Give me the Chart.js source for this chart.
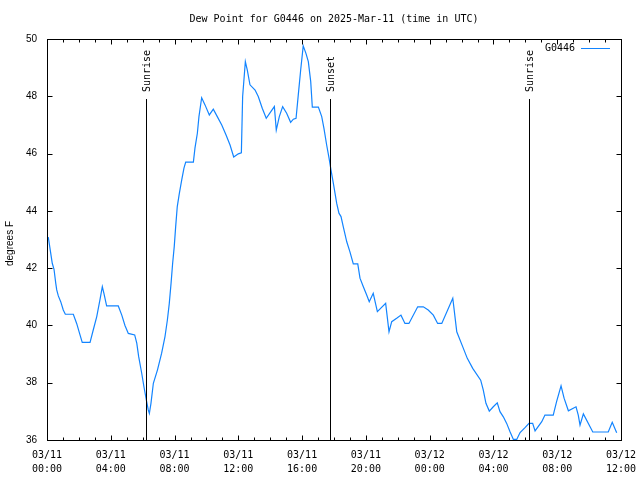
<!DOCTYPE html>
<html>
<head>
<meta charset="utf-8">
<script src="https://cdn.jsdelivr.net/npm/chart.js@4.4.1/dist/chart.umd.min.js"></script>
<style>
  body { margin: 0; background: #fff; }
  #dewChart { display: block; }
</style>
</head>
<body>
<canvas id="dewChart" width="640" height="480"></canvas>
<script>
// hours since 03/11 00:00 UTC
const hours = [0.08, 0.33, 0.44, 0.55, 0.61, 0.71, 0.86, 1.02, 1.15, 1.65,
  1.86, 2.07, 2.21, 2.70, 2.90, 3.12, 3.32, 3.47, 3.57, 3.74,
  4.47, 4.69, 4.89, 5.10, 5.50, 5.63, 5.75, 5.94, 6.08, 6.25,
  6.35, 6.42, 6.52, 6.67, 6.93, 7.19, 7.40, 7.55, 7.67, 7.78,
  7.88, 7.98, 8.07, 8.17, 8.30, 8.45, 8.59, 8.70, 9.18, 9.28,
  9.43, 9.53, 9.70, 9.91, 10.18, 10.43, 10.68, 10.96, 11.23, 11.48,
  11.71, 12.00, 12.19, 12.27, 12.44, 12.56, 12.73, 13.05, 13.25, 13.50,
  13.75, 14.05, 14.26, 14.38, 14.57, 14.78, 15.03, 15.28, 15.45, 15.62,
  15.76, 15.91, 16.07, 16.24, 16.39, 16.54, 16.64, 17.02, 17.23, 17.37,
  17.54, 17.69, 17.81, 17.96, 18.17, 18.31, 18.44, 18.58, 18.80, 19.00,
  19.21, 19.49, 19.63, 19.84, 20.05, 20.21, 20.46, 20.72, 21.24, 21.45,
  21.62, 21.93, 22.20, 22.45, 22.70, 23.25, 23.60, 23.91, 24.23, 24.50,
  24.76, 25.45, 25.70, 26.07, 26.36, 26.70, 27.20, 27.36, 27.53, 27.74,
  27.99, 28.24, 28.41, 28.62, 28.83, 29.04, 29.25, 29.46, 29.67, 29.98,
  30.23, 30.46, 30.61, 31.03, 31.23, 31.75, 31.96, 32.24, 32.43, 32.70,
  33.18, 33.32, 33.43, 33.64, 34.06, 34.23, 35.20, 35.45, 35.73];

const dewPoint = [43.08, 42.17, 41.96, 41.47, 41.24, 41.03, 40.83, 40.54, 40.39, 40.39,
  40.07, 39.67, 39.41, 39.41, 39.84, 40.31, 40.89, 41.35, 41.12, 40.68,
  40.68, 40.36, 40.00, 39.72, 39.67, 39.38, 38.91, 38.33, 37.86, 37.34,
  37.05, 36.93, 37.28, 37.98, 38.45, 39.03, 39.61, 40.19, 40.77, 41.47,
  42.17, 42.75, 43.45, 44.15, 44.61, 45.08, 45.49, 45.70, 45.70, 46.19,
  46.71, 47.29, 47.95, 47.70, 47.35, 47.55, 47.29, 47.00, 46.65, 46.30,
  45.88, 45.99, 46.03, 47.99, 49.21, 48.92, 48.40, 48.22, 47.99, 47.58,
  47.23, 47.47, 47.64, 46.82, 47.29, 47.64, 47.41, 47.09, 47.20, 47.23,
  48.05, 48.92, 49.76, 49.50, 49.21, 48.51, 47.62, 47.62, 47.29, 46.88,
  46.30, 45.84, 45.43, 44.96, 44.26, 43.92, 43.80, 43.45, 42.92, 42.57,
  42.15, 42.15, 41.65, 41.35, 41.06, 40.83, 41.12, 40.48, 40.77, 39.78,
  40.13, 40.25, 40.36, 40.07, 40.07, 40.65, 40.65, 40.54, 40.36, 40.07,
  40.07, 40.95, 39.78, 39.26, 38.85, 38.50, 38.09, 37.75, 37.28, 37.01,
  37.16, 37.30, 36.99, 36.81, 36.58, 36.29, 36.02, 36.02, 36.26, 36.43,
  36.58, 36.58, 36.32, 36.64, 36.87, 36.87, 37.34, 37.89, 37.46, 37.02,
  37.16, 36.87, 36.52, 36.91, 36.46, 36.28, 36.28, 36.62, 36.25];

const sunHours = [6.23, 17.77, 30.25];
const sunLabels = ['Sunrise', 'Sunset', 'Sunrise'];
const dayLabels = ['03/11', '03/12'];
const seriesName = 'G0446';

const lineColor = 'rgb(18,132,255)';
const monoFont = '10px "DejaVu Sans Mono", monospace';

// gnuplot style frame, inward ticks, sun markers, legend
const gnuplotBits = {
  id: 'gnuplotBits',
  afterDraw(chart) {
    const ctx = chart.ctx;
    const a = chart.chartArea;
    const xs = chart.scales.x;
    const ys = chart.scales.y;
    const L = Math.round(a.left) + 0.5, R = Math.round(a.right) + 0.5;
    const T = Math.round(a.top) + 0.5, B = Math.round(a.bottom) + 0.5;
    ctx.save();
    ctx.strokeStyle = '#000';
    ctx.lineWidth = 1;
    ctx.strokeRect(L, T, R - L, B - T);

    ctx.beginPath();
    // x ticks every hour, bigger every 4
    for (let h = xs.min; h <= xs.max; h++) {
      const px = Math.round(xs.getPixelForValue(h)) + 0.5;
      const len = h % 4 === 0 ? 5 : 3;
      ctx.moveTo(px, B); ctx.lineTo(px, B - len);
      ctx.moveTo(px, T); ctx.lineTo(px, T + len);
    }
    ys.ticks.forEach(t => {
      const py = Math.round(ys.getPixelForValue(t.value)) + 0.5;
      ctx.moveTo(L, py); ctx.lineTo(L + 5, py);
      ctx.moveTo(R, py); ctx.lineTo(R - 5, py);
    });
    ctx.stroke();

    // sunrise / sunset
    ctx.font = monoFont;
    ctx.fillStyle = '#000';
    sunHours.forEach((h, i) => {
      const px = Math.round(xs.getPixelForValue(h)) + 0.5;
      const top = a.top + 60;
      ctx.beginPath();
      ctx.moveTo(px, top); ctx.lineTo(px, B);
      ctx.stroke();
      ctx.save();
      ctx.translate(px + 1, top - 7);
      ctx.rotate(-Math.PI / 2);
      ctx.textAlign = 'left';
      ctx.textBaseline = 'middle';
      ctx.fillText(sunLabels[i], 0, 0);
      ctx.restore();
    });

    // legend, top right
    ctx.textAlign = 'right';
    ctx.textBaseline = 'middle';
    ctx.fillText(seriesName, a.right - 46, a.top + 9);
    ctx.strokeStyle = lineColor;
    ctx.beginPath();
    ctx.moveTo(a.right - 40, a.top + 9.5);
    ctx.lineTo(a.right - 11, a.top + 9.5);
    ctx.stroke();

    // y axis title
    ctx.fillStyle = '#000';
    ctx.font = '10px "Liberation Sans", sans-serif';
    ctx.translate(10, (a.top + a.bottom) / 2 + 4);
    ctx.rotate(-Math.PI / 2);
    ctx.textAlign = 'center';
    ctx.fillText('degrees F', 0, 0);
    ctx.restore();
  }
};

const ctx = document.getElementById('dewChart').getContext('2d');
const dewChart = new Chart(ctx, {
  type: 'line',
  data: {
    datasets: [{
      label: seriesName,
      data: hours.map((h, i) => ({ x: h, y: dewPoint[i] })),
      borderColor: lineColor,
      borderWidth: 1.2,
      pointRadius: 0,
      tension: 0,
      fill: false
    }]
  },
  options: {
    responsive: false,
    animation: false,
    layout: { padding: { left: 0, right: 19, top: 0, bottom: 0 } },
    plugins: {
      legend: { display: false },
      tooltip: { enabled: false },
      title: {
        display: true,
        text: 'Dew Point for G0446 on 2025-Mar-11 (time in UTC)',
        color: '#000',
        fullSize: false,
        font: { family: '"DejaVu Sans Mono", monospace', size: 10, weight: 'normal', lineHeight: 1.2 },
        padding: { top: 13, bottom: 14 }
      }
    },
    scales: {
      x: {
        type: 'linear',
        min: 0,
        max: 36,
        grid: { display: false, drawTicks: false },
        border: { display: false },
        afterFit(scale) {
          scale.height = 40;
          scale.paddingLeft = 0;
          scale.paddingRight = 0;
        },
        ticks: {
          stepSize: 4,
          autoSkip: false,
          maxRotation: 0,
          padding: 8,
          color: '#000',
          font: { family: '"DejaVu Sans Mono", monospace', size: 10, lineHeight: '14px' },
          callback: v => {
            const day = dayLabels[Math.floor(v / 24)];
            const hh = String(v % 24).padStart(2, '0');
            return [day, hh + ':00'];
          }
        }
      },
      y: {
        min: 36,
        max: 50,
        grid: { display: false, drawTicks: false },
        border: { display: false },
        afterFit(scale) { scale.width = 47; },
        ticks: {
          stepSize: 2,
          padding: 10,
          color: '#000',
          font: { family: '"Liberation Sans", sans-serif', size: 10 }
        }
      }
    }
  },
  plugins: [gnuplotBits]
});
</script>
</body>
</html>
